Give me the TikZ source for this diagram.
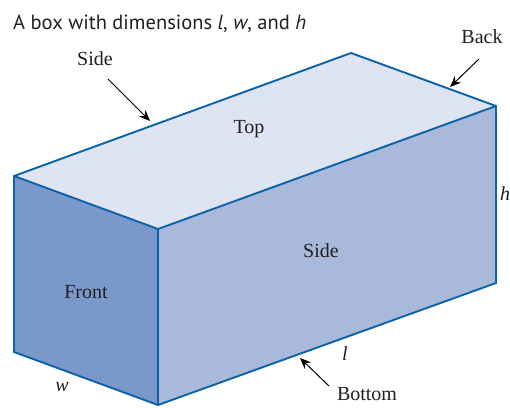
\documentclass[tikz,border=0pt]{standalone}
\usepackage{fontspec}
\setmainfont{Liberation Serif}
\newfontfamily\titlefont{PT Sans}
\usetikzlibrary{arrows.meta}
\definecolor{edgeblue}{HTML}{0A62A8}
\definecolor{topface}{HTML}{DFE4F2}
\definecolor{sideface}{HTML}{A9B9DA}
\definecolor{frontface}{HTML}{7B98CA}
\definecolor{ink}{HTML}{231F20}
\tikzset{
  face/.style={draw=edgeblue,line width=1.9pt,line join=miter},
  lbl/.style={inner sep=0pt,text=ink,font=\fontsize{20}{24}\selectfont},
  dim/.style={inner sep=0pt,text=ink,font=\fontsize{20}{24}\selectfont\itshape},
  pointer/.style={draw=black,line width=1pt,-{Stealth[length=11pt,width=9pt]},shorten <=0pt}
}
\begin{document}
\begin{tikzpicture}[x=1pt,y=-1pt]
\useasboundingbox (0,0) rectangle (510,407);
\coordinate (A) at (14,176);
\coordinate (B) at (351,53);
\coordinate (C) at (496,106);
\coordinate (D) at (158,229);
\coordinate (E) at (14,352);
\coordinate (F) at (158,405);
\coordinate (G) at (496,283);
\fill[topface] (A)--(B)--(C)--(D)--cycle;
\fill[sideface] (D)--(C)--(G)--(F)--cycle;
\fill[frontface] (A)--(D)--(F)--(E)--cycle;
\draw[face] (E)--(A)--(B)--(C)--(G)--(F)--cycle;
\draw[face] (A)--(D)--(C);
\draw[face] (D)--(F);
\node[anchor=west,inner sep=0pt,text=ink,font=\titlefont\fontsize{20.5}{24}\selectfont] (title) at (13,24) {A box with dimensions \textit{l}, \textit{w}, and \textit{h}};
\node[lbl] (sideA) at (95,59) {Side};
\node[lbl] (back) at (482,37) {Back};
\node[lbl] (top) at (249,129) {Top};
\node[lbl] (sideB) at (321,251) {Side};
\node[lbl] (front) at (86,292) {Front};
\node[lbl] (bottom) at (367,394) {Bottom};
\node[dim] (h) at (505,194) {h};
\node[dim] (l) at (345,354) {l};
\node[dim] (w) at (62,387) {w};
\coordinate (sideTip) at (150,121);
\coordinate (sideTail) at (108,79);
\coordinate (backTip) at (450,87);
\coordinate (backTail) at (479,59);
\coordinate (botTip) at (300,358);
\coordinate (botTail) at (329,386);
\draw[pointer] (sideTail)--(sideTip);
\draw[pointer] (backTail)--(backTip);
\draw[pointer] (botTail)--(botTip);
\end{tikzpicture}
\end{document}
